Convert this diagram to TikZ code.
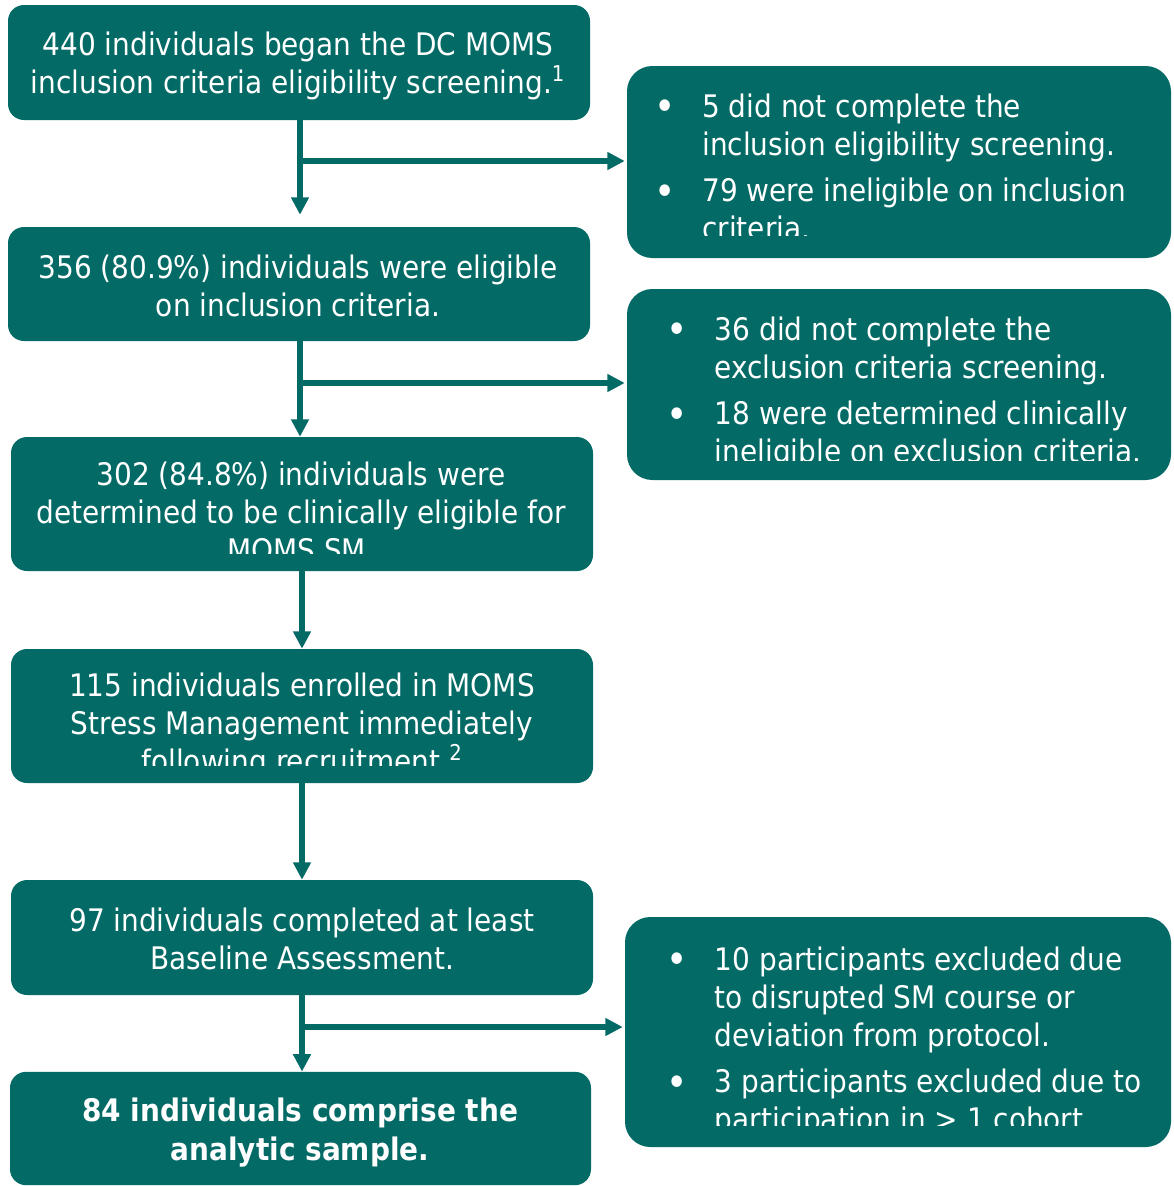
\documentclass[tikz,border=0pt]{standalone}
\usepackage{fontspec}
\setmainfont{DejaVu Sans Condensed}
\usetikzlibrary{arrows.meta}
\definecolor{momsteal}{RGB}{3,106,102}
\newcommand{\listdot}{\raisebox{-2.5pt}{\fontsize{30}{28.6}\selectfont•}}

\begin{document}
\begin{tikzpicture}[x=0.75pt,y=-0.75pt,
  mainbox/.style={fill=momsteal,rounded corners=12pt,inner sep=0pt,minimum width=436.5pt},
  sidebox/.style={fill=momsteal,rounded corners=19pt,inner sep=0pt,minimum width=408pt},
  boxtext/.style={text=white,inner sep=0pt,align=center,font=\fontsize{23.3}{28.6}\selectfont},
  listtext/.style={boxtext,align=left,anchor=west},
  flow/.style={line width=4.5pt,color=momsteal,-{Triangle[width=12.75pt,length=13pt]}}]
%\draw[help lines,step=50] (0,0) grid (1174,1186);
\useasboundingbox (0,0) rectangle (1174,1186);

% main column
\node[mainbox,minimum height=86.25pt] (screen) at (299,62.5) {};
\node[mainbox,minimum height=85.5pt] (incl) at (299,284) {};
\node[mainbox,minimum height=100.5pt] (clin) at (302,504) {};
\node[mainbox,minimum height=100.5pt] (enrol) at (302,716) {};
\node[mainbox,minimum height=86.25pt] (base) at (302,937.5) {};
\node[mainbox,minimum height=85pt,minimum width=435.75pt] (sample) at (300.5,1128.5) {};

% side boxes
\node[sidebox,minimum height=144pt] (inclout) at (899,162) {};
\node[sidebox,minimum height=143.25pt] (exclout) at (899,384.5) {};
\node[sidebox,minimum height=172.5pt,minimum width=409.5pt] (sampout) at (898,1032) {};

% texts
\node[boxtext] (screentext) at (298,66) {440 individuals began the DC MOMS\\inclusion criteria eligibility screening.\textsuperscript{1}};
\node[boxtext] (incltext) at (298,286) {356 (80.9\%) individuals were eligible\\on inclusion criteria.};
\begin{scope}
\clip (clin.north west) rectangle ([yshift=13.5pt]clin.south east);
\node[boxtext] (clintext) at (301,512) {302 (84.8\%) individuals were\\determined to be clinically eligible for\\MOMS SM.};
\end{scope}
\begin{scope}
\clip (enrol.north west) rectangle ([yshift=13.5pt]enrol.south east);
\node[boxtext] (enroltext) at (302,726) {115 individuals enrolled in MOMS\\Stress Management immediately\\following recruitment.\textsuperscript{2}};
\end{scope}
\node[boxtext] (basetext) at (302,939) {97 individuals completed at least\\Baseline Assessment.};
\node[boxtext,font=\fontsize{23.3}{28.6}\selectfont\bfseries] (sampletext) at (300,1132.5) {84 individuals comprise the\\analytic sample.};

\begin{scope}
\clip (inclout.north west) rectangle ([yshift=17pt]inclout.south east);
\node[listtext] (inclouttext) at (654,171) {\begin{tabular}{@{}p{36pt}@{}l@{}}
\listdot&5 did not complete the\\
 &inclusion eligibility screening.\\[6pt]
\listdot&79 were ineligible on inclusion\\
 &criteria.
\end{tabular}};
\end{scope}
\begin{scope}
\clip (exclout.north west) rectangle ([yshift=15pt]exclout.south east);
\node[listtext] (exclouttext) at (666,394) {\begin{tabular}{@{}p{36.5pt}@{}l@{}}
\listdot&36 did not complete the\\
 &exclusion criteria screening.\\[6pt]
\listdot&18 were determined clinically\\
 &ineligible on exclusion criteria.
\end{tabular}};
\end{scope}
\begin{scope}
\clip (sampout.north west) rectangle ([yshift=16pt]sampout.south east);
\node[listtext] (sampouttext) at (666,1043) {\begin{tabular}{@{}p{36.5pt}@{}l@{}}
\listdot&10 participants excluded due\\
 &to disrupted SM course or\\
 &deviation from protocol.\\[6pt]
\listdot&3 participants excluded due to\\
 &participation in > 1 cohort.
\end{tabular}};
\end{scope}

% connectors
\coordinate (split1) at (300,161);
\coordinate (split2) at (300,383);
\coordinate (split3) at (302,1027);
\draw[flow,shorten >=9pt] (screen.south -| split1) -- (incl.north -| split1);
\draw[flow,shorten >=1.5pt] (split1) -- (split1 -| inclout.west);
\draw[flow] (incl.south -| split2) -- (clin.north -| split2);
\draw[flow,shorten >=1.5pt] (split2) -- (split2 -| exclout.west);
\draw[flow] (clin.south) -- (enrol.north);
\draw[flow] (enrol.south) -- (base.north);
\draw[flow] (base.south -| split3) -- (sample.north -| split3);
\draw[flow,shorten >=1.5pt] (split3) -- (split3 -| sampout.west);
\end{tikzpicture}
\end{document}
